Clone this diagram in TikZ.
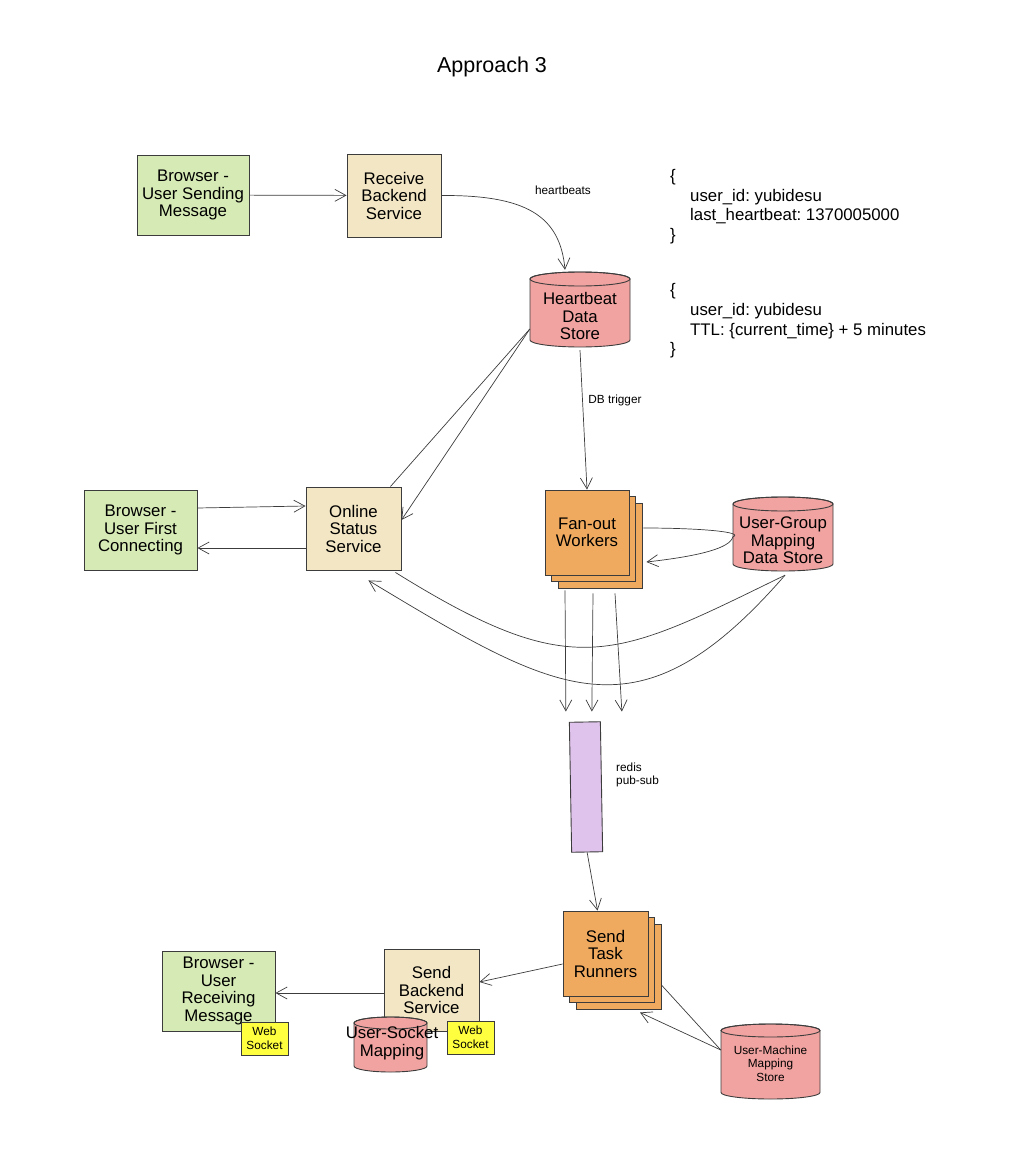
\documentclass[tikz,border=0pt]{standalone}
\usepackage{fontspec}
\setmainfont{Liberation Sans}
\usetikzlibrary{arrows.meta,shadows}
\frenchspacing

\definecolor{browsergreen}{RGB}{214,234,181}
\definecolor{servicetan}{RGB}{242,230,196}
\definecolor{storepink}{RGB}{240,163,160}
\definecolor{workerorange}{RGB}{240,170,95}
\definecolor{queuelilac}{RGB}{224,195,236}
\definecolor{socketyellow}{RGB}{255,255,64}
\definecolor{edgegray}{RGB}{60,60,60}

\newcommand\boxfont{\fontsize{16.8}{17.5}\selectfont}
\newcommand\lblfont{\fontsize{11.8}{13.5}\selectfont}
\newcommand\jsonfont{\fontsize{16.8}{19.6}\selectfont}

\tikzset{
  box/.style={draw=edgegray, line width=0.9pt, inner sep=0pt, align=center, font=\boxfont},
  browser/.style={box, fill=browsergreen, minimum width=113pt, minimum height=80pt},
  service/.style={box, fill=servicetan, minimum width=95pt, minimum height=83pt},
  workers/.style={box, fill=workerorange, minimum width=84pt, minimum height=85pt,
    double copy shadow={shadow xshift=6.5pt, shadow yshift=-6.5pt}},
  store/.style={draw=edgegray, fill=storepink, line width=0.9pt},
  storetext/.style={font=\boxfont, align=center, inner sep=0pt},
  socket/.style={box, fill=socketyellow, minimum width=47pt, minimum height=33pt, font=\lblfont},
  link/.style={draw=edgegray, line width=0.7pt},
  arr/.style={link, -{Straight Barb[length=11pt,width=12pt]}},
  lbl/.style={font=\lblfont, inner sep=0pt}
}

% #1 text options, #2 name, #3 x, #4 y, #5 width, #6 height, #7 ellipse radius, #8 text
\newcommand\storecyl[8]{%
  \filldraw[store] (#3-#5/2,#4-#6/2+#7) -- (#3-#5/2,#4+#6/2-#7)
    arc[start angle=180, end angle=0, x radius=#5/2, y radius=#7]
    -- (#3+#5/2,#4-#6/2+#7)
    arc[start angle=0, end angle=-180, x radius=#5/2, y radius=#7] -- cycle;
  \draw[store, fill=none] (#3,#4-#6/2+#7) ellipse [x radius=#5/2, y radius=#7];
  \node[minimum width=#5pt, minimum height=#6pt, inner sep=0pt,
    label={[storetext,#1]center:#8}] (#2) at (#3,#4) {};
}

\begin{document}
\begin{tikzpicture}[x=1pt,y=-1pt]
  \useasboundingbox (0,0) rectangle (1012,1150);
  \node[font=\fontsize{21.5}{24}\selectfont] (title) at (492,67) {Approach 3};

  % sending side
  \node[browser, minimum width=112pt] (bsend) at (193,195) {Browser -\\User Sending\\Message};
  \node[service, minimum width=94pt] (recv) at (394,195.5) {Receive\\Backend\\Service};
  \storecyl{yshift=-6.5pt}{hb}{580}{309.5}{100}{75}{7}{Heartbeat\\Data\\Store}
  \node[font=\jsonfont, align=left, anchor=west, inner sep=0pt] (hbjson) at (670,206.5)
    {\{\\\hspace*{20pt}user\_id: yubidesu\\\hspace*{20pt}last\_heartbeat: 1370005000\\\}};
  \node[font=\jsonfont, align=left, anchor=west, inner sep=0pt] (ttljson) at (670,321)
    {\{\\\hspace*{20pt}user\_id: yubidesu\\\hspace*{20pt}TTL: \{current\_time\} + 5 minutes\\\}};

  \draw[arr] (bsend) -- (recv);
  \draw[arr] (recv.east) .. controls (525,195) and (560,215) .. ([xshift=-15pt,yshift=2pt]hb.north);
  \node[lbl] (hblbl) at (563,190) {heartbeats};

  % status and fan-out
  \node[browser] (bfirst) at (140.5,530) {Browser -\\User First\\Connecting};
  \node[service] (online) at (353.5,528.5) {Online\\Status\\Service};
  \node[workers] (fanout) at (587,532.5) {Fan-out\\Workers};
  \storecyl{yshift=-6.5pt}{ugm}{783}{534}{100}{74}{7}{User-Group\\Mapping\\Data Store}

  \draw[arr] ([yshift=-3pt]hb.south) -- (fanout.north);
  \node[lbl] (dblbl) at (615,400) {DB trigger};

  \coordinate (hbleft) at ([yshift=-19.5pt]hb.west);
  \draw[link] (hbleft) -- ([xshift=-11pt]online.north east);
  \draw[arr] (hbleft) -- ([yshift=8.5pt]online.east);

  \draw[arr] ([yshift=22pt]bfirst.east) -- ([yshift=22.5pt]online.west);
  \draw[arr] ([yshift=-19.5pt]online.west) -- ([yshift=-18pt]bfirst.east);

  \draw[arr] ([xshift=14pt,yshift=4.5pt]fanout.east) .. controls (700,528) and (745,532) .. ([yshift=-3pt]ugm.west)
    .. controls (730,548) and (700,556) .. ([xshift=17pt,yshift=-29.5pt]fanout.east);

  \draw[link] ([xshift=-6pt,yshift=-2pt]online.south east) .. controls (575,684) and (613,659) .. ([xshift=2pt,yshift=-4pt]ugm.south);
  \draw[arr] ([xshift=2pt,yshift=-4pt]ugm.south) .. controls (638,744) and (559,695) .. ([xshift=-33pt,yshift=-10pt]online.south east);

  % queue
  \node[box, fill=queuelilac, minimum width=31pt, minimum height=130pt, rotate=1] (redis) at (586,787) {};
  \node[lbl, anchor=west, align=left] (redislbl) at (616,775) {redis\\pub-sub};

  \draw[arr] ([xshift=-22pt,yshift=-15pt]fanout.south) -- ([xshift=-19pt,yshift=10pt]redis.north);
  \draw[arr] ([xshift=6pt,yshift=-18pt]fanout.south) -- ([xshift=7pt,yshift=10pt]redis.north);
  \draw[arr] ([xshift=28pt,yshift=-18pt]fanout.south) -- ([xshift=37pt,yshift=10pt]redis.north);

  % receiving side
  \node[workers, minimum width=85pt] (str) at (605.5,953.5) {Send\\Task\\Runners};
  \node[browser] (brecv) at (218.5,991) {Browser -\\User\\Receiving\\Message};
  \node[service, minimum height=82pt] (sbs) at (431.5,990) {Send\\Backend\\Service};
  \storecyl{xshift=1.5pt,yshift=1.5pt}{usm}{390.5}{1044.5}{73}{55}{6}{User-Socket\\Mapping}
  \node[socket] (ws1) at (264.5,1038.5) {Web\\Socket};
  \node[socket] (ws2) at (470.5,1037.5) {Web\\Socket};
  \storecyl{font=\lblfont,yshift=-2pt}{umm}{770.5}{1061.5}{99}{75}{6.5}{User-Machine\\Mapping\\Store}

  \draw[arr] (redis.south) -- ([xshift=-8pt]str.north);
  \draw[arr] ([yshift=-10.5pt]str.west) -- ([yshift=8pt]sbs.east);
  \draw[arr] ([yshift=-3pt]sbs.west) -- ([yshift=-2pt]brecv.east);
  \draw[link] ([xshift=13pt,yshift=-31.5pt]str.east) -- ([yshift=11.5pt]umm.west);
  \draw[arr] ([yshift=11.5pt]umm.west) -- ([xshift=34.5pt,yshift=-16pt]str.south);
\end{tikzpicture}
\end{document}
